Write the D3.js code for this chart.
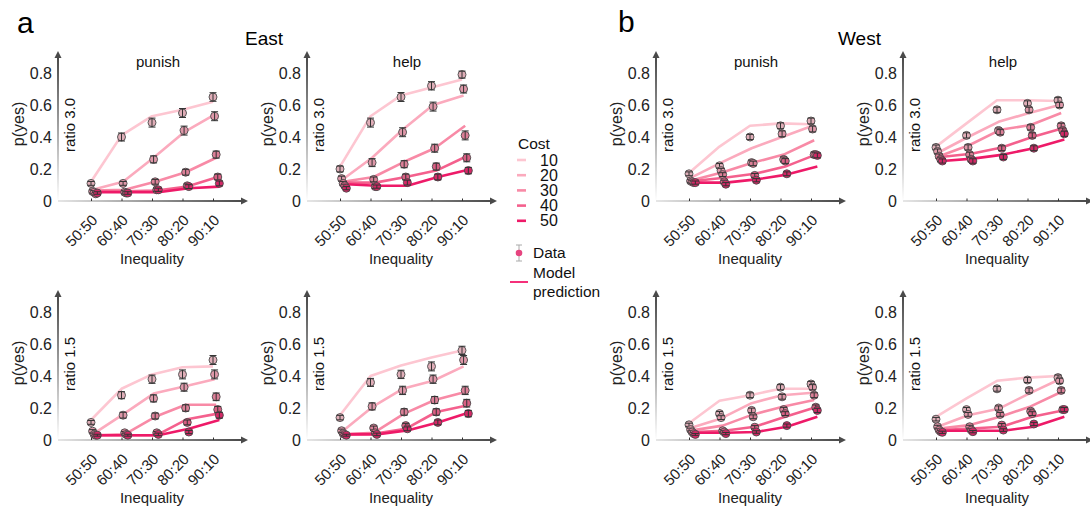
<!DOCTYPE html>
<html>
<head>
<meta charset="utf-8">
<script src="https://cdn.jsdelivr.net/npm/d3@7"></script>
<style>
  html, body { margin: 0; padding: 0; background: #fff; }
  svg { display: block; font-family: "Liberation Sans", Arial, Helvetica, sans-serif; }
</style>
</head>
<body>
<svg id="chart" width="1090" height="510"></svg>
<script>
// ---- categories ----
const inequality = ["50:50", "60:40", "70:30", "80:20", "90:10"];
const costs = [10, 20, 30, 40, 50];
const yTicks = [0, 0.2, 0.4, 0.6, 0.8];
const costColors = ["#fdc6d1", "#fbaabd", "#f88aa6", "#f4608d", "#ee1a68"];

// ---- East, punish, ratio 3.0 ----
const eastPunish30Data = [
  [0.11, 0.40, 0.49, 0.55, 0.65],
  [0.06, 0.11, 0.26, 0.44, 0.53],
  [0.055, 0.055, 0.12, 0.18, 0.29],
  [0.045, 0.05, 0.07, 0.095, 0.15],
  [0.05, 0.05, 0.07, 0.09, 0.11]
];
const eastPunish30Sem = [
  [0.012, 0.025, 0.028, 0.028, 0.027],
  [0.010, 0.012, 0.022, 0.028, 0.028],
  [0.010, 0.010, 0.015, 0.018, 0.022],
  [0.008, 0.008, 0.010, 0.012, 0.018],
  [0.008, 0.008, 0.010, 0.012, 0.015]
];
const eastPunish30Model = [
  [0.12, 0.41, 0.53, 0.57, 0.62],
  [0.07, 0.12, 0.27, 0.43, 0.54],
  [0.065, 0.07, 0.12, 0.18, 0.27],
  [0.06, 0.06, 0.065, 0.09, 0.15],
  [0.055, 0.055, 0.055, 0.08, 0.09]
];

// ---- East, help, ratio 3.0 ----
const eastHelp30Data = [
  [0.20, 0.49, 0.65, 0.72, 0.79],
  [0.14, 0.24, 0.43, 0.59, 0.70],
  [0.11, 0.135, 0.23, 0.33, 0.41],
  [0.095, 0.09, 0.15, 0.215, 0.27],
  [0.08, 0.09, 0.115, 0.15, 0.19]
];
const eastHelp30Sem = [
  [0.018, 0.028, 0.028, 0.026, 0.022],
  [0.015, 0.025, 0.028, 0.028, 0.025],
  [0.012, 0.015, 0.022, 0.025, 0.028],
  [0.010, 0.012, 0.018, 0.022, 0.025],
  [0.010, 0.010, 0.015, 0.018, 0.020]
];
const eastHelp30Model = [
  [0.215, 0.53, 0.66, 0.71, 0.76],
  [0.13, 0.27, 0.445, 0.60, 0.66],
  [0.12, 0.15, 0.245, 0.33, 0.47],
  [0.115, 0.115, 0.15, 0.19, 0.28],
  [0.105, 0.095, 0.095, 0.15, 0.195]
];

// ---- East, punish, ratio 1.5 ----
const eastPunish15Data = [
  [0.11, 0.28, 0.38, 0.41, 0.50],
  [0.055, 0.155, 0.26, 0.33, 0.41],
  [0.035, 0.045, 0.15, 0.20, 0.27],
  [0.03, 0.035, 0.045, 0.11, 0.19],
  [0.03, 0.03, 0.035, 0.05, 0.155]
];
const eastPunish15Sem = [
  [0.012, 0.022, 0.026, 0.028, 0.028],
  [0.010, 0.018, 0.022, 0.025, 0.028],
  [0.008, 0.008, 0.018, 0.020, 0.024],
  [0.006, 0.008, 0.008, 0.015, 0.020],
  [0.006, 0.006, 0.008, 0.010, 0.018]
];
const eastPunish15Model = [
  [0.125, 0.32, 0.41, 0.455, 0.46],
  [0.035, 0.16, 0.29, 0.335, 0.38],
  [0.03, 0.035, 0.145, 0.22, 0.22],
  [0.03, 0.03, 0.03, 0.13, 0.165],
  [0.03, 0.03, 0.03, 0.07, 0.125]
];

// ---- East, help, ratio 1.5 ----
const eastHelp15Data = [
  [0.14, 0.36, 0.41, 0.46, 0.56],
  [0.058, 0.21, 0.31, 0.38, 0.50],
  [0.04, 0.075, 0.175, 0.25, 0.31],
  [0.035, 0.045, 0.09, 0.175, 0.23],
  [0.03, 0.035, 0.07, 0.11, 0.165]
];
const eastHelp15Sem = [
  [0.014, 0.025, 0.026, 0.028, 0.026],
  [0.010, 0.022, 0.026, 0.026, 0.028],
  [0.008, 0.012, 0.020, 0.022, 0.026],
  [0.008, 0.008, 0.014, 0.020, 0.024],
  [0.006, 0.008, 0.012, 0.015, 0.020]
];
const eastHelp15Model = [
  [0.155, 0.40, 0.465, 0.515, 0.56],
  [0.05, 0.205, 0.32, 0.37, 0.46],
  [0.035, 0.045, 0.165, 0.25, 0.30],
  [0.035, 0.04, 0.07, 0.175, 0.215],
  [0.035, 0.035, 0.06, 0.11, 0.17]
];

// ---- West, punish, ratio 3.0 ----
const westPunish30Data = [
  [0.17, 0.22, 0.40, 0.47, 0.50],
  [0.125, 0.19, 0.24, 0.42, 0.45],
  [0.12, 0.165, 0.235, 0.26, 0.29],
  [0.115, 0.12, 0.16, 0.25, 0.29],
  [0.115, 0.105, 0.13, 0.17, 0.285]
];
const westPunish30Sem = [
  [0.012, 0.014, 0.016, 0.018, 0.018],
  [0.010, 0.014, 0.015, 0.018, 0.018],
  [0.010, 0.012, 0.014, 0.015, 0.016],
  [0.010, 0.010, 0.012, 0.015, 0.015],
  [0.010, 0.010, 0.010, 0.012, 0.015]
];
const westPunish30Model = [
  [0.175, 0.34, 0.47, 0.485, 0.48],
  [0.145, 0.24, 0.33, 0.40, 0.47],
  [0.13, 0.18, 0.24, 0.29, 0.38],
  [0.125, 0.145, 0.17, 0.215, 0.29],
  [0.115, 0.115, 0.135, 0.165, 0.215]
];

// ---- West, help, ratio 3.0 ----
const westHelp30Data = [
  [0.335, 0.41, 0.57, 0.61, 0.63],
  [0.31, 0.335, 0.44, 0.57, 0.60],
  [0.28, 0.29, 0.43, 0.46, 0.47],
  [0.26, 0.26, 0.33, 0.41, 0.44],
  [0.25, 0.25, 0.275, 0.33, 0.42]
];
const westHelp30Sem = [
  [0.015, 0.016, 0.016, 0.016, 0.016],
  [0.015, 0.016, 0.016, 0.016, 0.016],
  [0.014, 0.015, 0.016, 0.016, 0.016],
  [0.014, 0.014, 0.015, 0.016, 0.016],
  [0.013, 0.014, 0.015, 0.015, 0.016]
];
const westHelp30Model = [
  [0.34, 0.485, 0.63, 0.63, 0.625],
  [0.30, 0.40, 0.495, 0.55, 0.60],
  [0.28, 0.35, 0.445, 0.475, 0.55],
  [0.275, 0.295, 0.335, 0.40, 0.455],
  [0.25, 0.265, 0.29, 0.33, 0.385]
];

// ---- West, punish, ratio 1.5 ----
const westPunish15Data = [
  [0.095, 0.165, 0.28, 0.33, 0.35],
  [0.065, 0.14, 0.185, 0.27, 0.33],
  [0.05, 0.058, 0.145, 0.19, 0.28],
  [0.04, 0.05, 0.08, 0.165, 0.205],
  [0.035, 0.04, 0.05, 0.09, 0.185]
];
const westPunish15Sem = [
  [0.010, 0.013, 0.015, 0.016, 0.016],
  [0.009, 0.012, 0.014, 0.015, 0.016],
  [0.008, 0.008, 0.012, 0.014, 0.015],
  [0.007, 0.008, 0.010, 0.012, 0.014],
  [0.006, 0.007, 0.008, 0.010, 0.013]
];
const westPunish15Model = [
  [0.105, 0.245, 0.28, 0.32, 0.32],
  [0.075, 0.135, 0.23, 0.28, 0.295],
  [0.06, 0.09, 0.16, 0.21, 0.25],
  [0.05, 0.058, 0.083, 0.145, 0.205],
  [0.045, 0.045, 0.05, 0.083, 0.145]
];

// ---- West, help, ratio 1.5 ----
const westHelp15Data = [
  [0.13, 0.19, 0.32, 0.375, 0.39],
  [0.083, 0.16, 0.20, 0.31, 0.37],
  [0.062, 0.083, 0.16, 0.18, 0.31],
  [0.052, 0.062, 0.093, 0.165, 0.19],
  [0.048, 0.052, 0.062, 0.10, 0.19]
];
const westHelp15Sem = [
  [0.011, 0.013, 0.015, 0.016, 0.016],
  [0.009, 0.012, 0.013, 0.015, 0.016],
  [0.008, 0.009, 0.012, 0.013, 0.015],
  [0.007, 0.008, 0.010, 0.012, 0.013],
  [0.007, 0.007, 0.008, 0.010, 0.013]
];
const westHelp15Model = [
  [0.145, 0.26, 0.37, 0.39, 0.40],
  [0.083, 0.155, 0.195, 0.29, 0.38],
  [0.072, 0.093, 0.145, 0.21, 0.30],
  [0.062, 0.072, 0.083, 0.145, 0.185],
  [0.058, 0.058, 0.058, 0.083, 0.145]
];

// ---- panel layout (axis origin of each small plot) ----
const panels = [
  { ox: 58,  oy: 201, title: "punish", ratio: "ratio 3.0", data: eastPunish30Data, sem: eastPunish30Sem, model: eastPunish30Model },
  { ox: 307, oy: 201, title: "help",   ratio: "ratio 3.0", data: eastHelp30Data,   sem: eastHelp30Sem,   model: eastHelp30Model },
  { ox: 58,  oy: 440, title: null,     ratio: "ratio 1.5", data: eastPunish15Data, sem: eastPunish15Sem, model: eastPunish15Model },
  { ox: 307, oy: 440, title: null,     ratio: "ratio 1.5", data: eastHelp15Data,   sem: eastHelp15Sem,   model: eastHelp15Model },
  { ox: 656, oy: 201, title: "punish", ratio: "ratio 3.0", data: westPunish30Data, sem: westPunish30Sem, model: westPunish30Model },
  { ox: 903, oy: 201, title: "help",   ratio: "ratio 3.0", data: westHelp30Data,   sem: westHelp30Sem,   model: westHelp30Model },
  { ox: 656, oy: 440, title: null,     ratio: "ratio 1.5", data: westPunish15Data, sem: westPunish15Sem, model: westPunish15Model },
  { ox: 903, oy: 440, title: null,     ratio: "ratio 1.5", data: westHelp15Data,   sem: westHelp15Sem,   model: westHelp15Model }
];

const svg = d3.select("#chart");
const defs = svg.append("defs");

// axis shading: light near the origin, dark toward the arrow
const gx = defs.append("linearGradient").attr("id", "gradX")
  .attr("x1", "0%").attr("x2", "100%").attr("y1", "0%").attr("y2", "0%");
gx.append("stop").attr("offset", "0%").attr("stop-color", "#e6e6e6");
gx.append("stop").attr("offset", "100%").attr("stop-color", "#4a4a4a");
const gy = defs.append("linearGradient").attr("id", "gradY")
  .attr("x1", "0%").attr("x2", "0%").attr("y1", "100%").attr("y2", "0%");
gy.append("stop").attr("offset", "0%").attr("stop-color", "#ffffff");
gy.append("stop").attr("offset", "100%").attr("stop-color", "#4a4a4a");

const axisLen = 190;   // x axis length incl. arrow
const axisTall = 150;  // y axis length incl. arrow
const jitter = 0.052;  // horizontal offset between cost levels (category units)

const x = d3.scaleLinear().domain([0, 4]).range([33, 155]);
const y = d3.scaleLinear().domain([0, 1]).range([0, -160]);

const line = d3.line()
  .x(d => x(d.i + d.c * jitter))
  .y(d => y(d.v));

panels.forEach(p => {
  const g = svg.append("g").attr("transform", `translate(${p.ox},${p.oy})`);

  // y axis (gradient bar + arrowhead)
  g.append("rect").attr("x", -1).attr("y", -axisTall + 6).attr("width", 2).attr("height", axisTall - 6)
    .attr("fill", "url(#gradY)");
  g.append("path").attr("d", `M0,${-axisTall} L-3.5,${-axisTall + 7} L3.5,${-axisTall + 7} Z`).attr("fill", "#4a4a4a");

  // x axis (gradient bar + arrowhead)
  g.append("rect").attr("x", 0).attr("y", -1).attr("width", axisLen - 6).attr("height", 2)
    .attr("fill", "url(#gradX)");
  g.append("path").attr("d", `M${axisLen},0 L${axisLen - 7},-3.5 L${axisLen - 7},3.5 Z`).attr("fill", "#4a4a4a");

  // y tick labels
  const ya = g.append("g").attr("transform", "translate(-6,0)")
    .call(d3.axisLeft(y).tickValues(yTicks).tickSize(0).tickPadding(0)
      .tickFormat(d => d === 0 ? "0" : d3.format(".1f")(d)));
  ya.select(".domain").remove();
  ya.selectAll("text").attr("font-size", 16).attr("fill", "#222")
    .attr("font-family", "Liberation Sans, Arial, sans-serif");

  // x ticks (small inward marks) and rotated labels
  const xa = g.append("g")
    .call(d3.axisBottom(x).tickValues(d3.range(5)).tickSize(-2.5).tickPadding(0)
      .tickFormat(i => inequality[i]));
  xa.select(".domain").remove();
  xa.selectAll(".tick line").attr("stroke", "#333").attr("stroke-width", 1);
  xa.selectAll("text")
    .attr("font-size", 15).attr("fill", "#222")
    .attr("font-family", "Liberation Sans, Arial, sans-serif")
    .attr("dy", null).attr("y", null)
    .attr("text-anchor", "end")
    .attr("transform", "translate(7,20) rotate(-45)");

  // axis titles
  g.append("text").attr("transform", `translate(-34,-77) rotate(-90)`)
    .attr("text-anchor", "middle").attr("font-size", 16).attr("fill", "#222").text("p(yes)");
  g.append("text").attr("transform", `translate(17,-76) rotate(-90)`)
    .attr("text-anchor", "middle").attr("font-size", 15).attr("fill", "#111").text(p.ratio);
  g.append("text").attr("x", 94).attr("y", 63)
    .attr("text-anchor", "middle").attr("font-size", 15).attr("fill", "#222").text("Inequality");
  if (p.title) {
    g.append("text").attr("x", 100).attr("y", -134)
      .attr("text-anchor", "middle").attr("font-size", 15).attr("fill", "#111").text(p.title);
  }

  // model predictions, one line per cost
  p.model.forEach((row, c) => {
    g.append("path")
      .datum(row.map((v, i) => ({ i, c, v })))
      .attr("fill", "none")
      .attr("stroke", costColors[c])
      .attr("stroke-width", 2.6)
      .attr("stroke-linejoin", "round")
      .attr("d", line);
  });

  // data points with error bars
  p.data.forEach((row, c) => {
    const pts = row.map((v, i) => ({ i, c, v, e: p.sem[c][i] }));
    const dg = g.append("g");
    const fill = d3.interpolateRgb(costColors[c], "#7a5a60")(0.22);
    dg.selectAll("circle").data(pts).join("circle")
      .attr("cx", d => x(d.i + d.c * jitter))
      .attr("cy", d => y(d.v))
      .attr("r", 4)
      .attr("fill", fill)
      .attr("stroke", "#4a4a4a")
      .attr("stroke-width", 0.9);
    const eb = dg.selectAll("g.eb").data(pts).join("g").attr("class", "eb");
    eb.append("line")
      .attr("x1", d => x(d.i + d.c * jitter)).attr("x2", d => x(d.i + d.c * jitter))
      .attr("y1", d => y(d.v - d.e)).attr("y2", d => y(d.v + d.e));
    eb.append("line")
      .attr("x1", d => x(d.i + d.c * jitter) - 3.5).attr("x2", d => x(d.i + d.c * jitter) + 3.5)
      .attr("y1", d => y(d.v - d.e)).attr("y2", d => y(d.v - d.e));
    eb.append("line")
      .attr("x1", d => x(d.i + d.c * jitter) - 3.5).attr("x2", d => x(d.i + d.c * jitter) + 3.5)
      .attr("y1", d => y(d.v + d.e)).attr("y2", d => y(d.v + d.e));
    eb.selectAll("line").attr("stroke", "#333").attr("stroke-width", 1);
  });
});

// panel letters and group titles
svg.append("text").attr("x", 17).attr("y", 33).attr("font-size", 30).attr("fill", "#000").text("a");
svg.append("text").attr("x", 618).attr("y", 32).attr("font-size", 30).attr("fill", "#000").text("b");
svg.append("text").attr("x", 245).attr("y", 45).attr("font-size", 19).attr("fill", "#000").text("East");
svg.append("text").attr("x", 838).attr("y", 45).attr("font-size", 19).attr("fill", "#000").text("West");

// legend
const lg = svg.append("g");
lg.append("text").attr("x", 518).attr("y", 149).attr("font-size", 15.5).attr("fill", "#111").text("Cost");
costs.forEach((c, k) => {
  const yy = 160 + k * 15.2;
  lg.append("line").attr("x1", 517).attr("x2", 526).attr("y1", yy).attr("y2", yy)
    .attr("stroke", costColors[k]).attr("stroke-width", 2.6);
  lg.append("text").attr("x", 540).attr("y", yy).attr("dy", "0.35em")
    .attr("font-size", 16).attr("fill", "#111").text(c);
});
lg.append("line").attr("x1", 519).attr("x2", 519).attr("y1", 245).attr("y2", 261).attr("stroke", "#aaa");
lg.append("line").attr("x1", 516).attr("x2", 522).attr("y1", 245).attr("y2", 245).attr("stroke", "#aaa");
lg.append("line").attr("x1", 516).attr("x2", 522).attr("y1", 261).attr("y2", 261).attr("stroke", "#aaa");
lg.append("circle").attr("cx", 519).attr("cy", 253).attr("r", 3.3).attr("fill", "#e6447f");
lg.append("text").attr("x", 533).attr("y", 253).attr("dy", "0.35em").attr("font-size", 15.5).attr("fill", "#111").text("Data");
lg.append("line").attr("x1", 510).attr("x2", 528).attr("y1", 282).attr("y2", 282)
  .attr("stroke", "#f5307a").attr("stroke-width", 2);
lg.append("text").attr("x", 533).attr("y", 273).attr("dy", "0.35em").attr("font-size", 15.5).attr("fill", "#111").text("Model");
lg.append("text").attr("x", 533).attr("y", 292).attr("dy", "0.35em").attr("font-size", 15.5).attr("fill", "#111").text("prediction");
</script>
</body>
</html>
